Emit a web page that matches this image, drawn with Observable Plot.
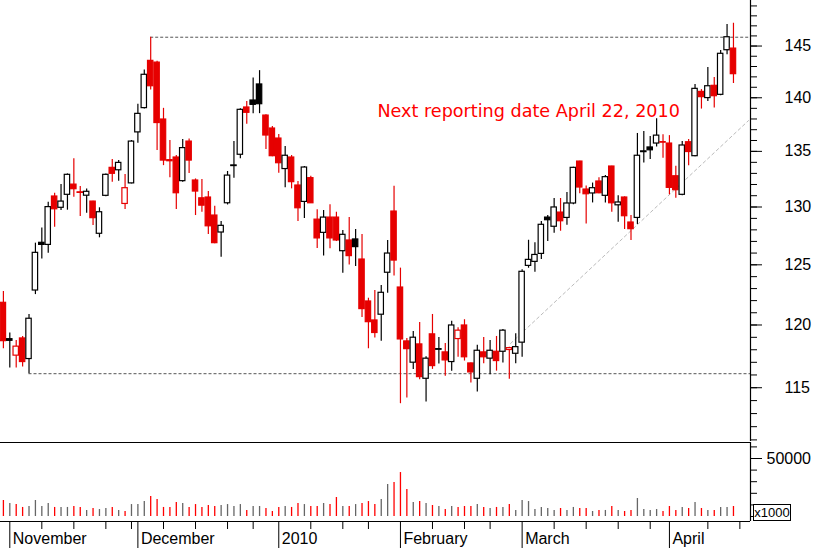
<!DOCTYPE html>
<html><head><meta charset="utf-8">
<script src="https://cdn.jsdelivr.net/npm/d3@7"></script>
<script src="https://cdn.jsdelivr.net/npm/@observablehq/plot@0.6"></script>
<style>
body{margin:0;background:#fff;}
#wrap{position:relative;width:817px;height:548px;overflow:hidden;background:#fff;}
#price{position:absolute;left:0;top:0;}
#vol{position:absolute;left:0;top:441px;}
#unit{position:absolute;left:753px;top:504px;width:36px;height:15px;border:1px solid #000;font:13px "Liberation Sans",Arial,sans-serif;line-height:15px;text-align:center;color:#000;background:#fff;}
</style></head><body>
<div id="wrap"><div id="price"></div><div id="vol"></div><div id="unit">x1000</div></div>
<script>
// trading days Oct 30 2009 .. Apr 16 2010 (index 0..114)
const open = [121.82,118.85,117.53,118.91,117.26,122.84,126.88,126.7,130.93,129.93,
131.08,131.99,131.3,131.0,130.48,127.66,130.99,133.5,133.28,130.27,
132.1,136.75,139.02,143.55,143.38,137.95,134.2,134.44,132.3,135.9,
132.36,130.77,130.84,129.25,127.77,130.33,133.72,134.69,139.08,139.74,
141.27,138.32,137.11,136.18,133.39,134.44,131.91,130.45,132.57,128.89,
127.74,129.07,129.07,126.16,127.08,127.17,125.45,121.93,120.37,120.84,
124.33,129.6,123.09,118.67,116.97,118.43,115.7,119.24,118.05,117.79,
117.02,118.86,119.96,116.91,115.7,117.79,117.29,117.84,117.84,117.98,
117.68,118.57,124.91,125.25,125.93,129.07,128.27,129.51,129.04,130.31,
134.07,131.55,131.2,132.27,130.99,133.62,130.15,130.84,128.64,129.04,
135.0,135.36,135.72,135.85,135.72,132.74,131.08,135.84,134.56,140.56,
139.97,141.14,140.28,144.59,144.75];
const high = [122.76,119.34,118.75,119.07,120.86,126.85,128.17,130.43,131.22,132.0,
132.95,134.33,131.82,131.6,130.5,129.93,132.95,134.25,134.16,132.9,
136.0,139.38,142.67,145.87,143.5,139.0,136.0,134.62,136.1,136.14,
132.5,132.45,131.37,130.06,128.72,133.17,135.9,138.95,139.65,141.9,
142.6,138.4,137.3,136.55,135.45,134.62,132.27,133.62,132.75,129.75,
129.69,130.19,129.54,127.94,129.07,128.03,127.6,122.2,122.84,123.26,
127.08,131.85,124.72,118.91,119.48,120.2,117.45,120.86,118.99,118.51,
120.31,119.78,120.43,116.95,118.37,118.99,118.75,119.07,119.64,118.2,
119.29,124.58,127.1,126.88,128.72,129.25,130.75,130.75,131.28,133.55,
134.1,131.87,132.13,132.6,132.8,133.65,131.0,130.9,129.25,136.65,
136.84,136.37,138.03,136.52,136.45,133.65,135.9,136.09,141.27,140.78,
142.9,141.94,144.56,147.13,147.26];
const low = [118.09,116.54,116.54,116.62,116.1,122.5,125.5,125.99,128.22,129.7,
129.72,130.87,129.17,129.45,128.38,127.31,130.9,132.21,132.3,129.78,
132.05,135.75,138.93,140.74,135.08,133.7,132.6,129.78,132.2,133.0,
129.25,129.54,127.6,126.8,125.65,130.18,132.57,134.32,137.5,138.5,
138.5,135.17,134.5,133.02,131.7,131.61,128.72,129.0,130.3,126.4,
125.74,126.36,126.99,124.29,124.99,124.85,120.61,118.08,118.94,118.69,
122.62,124.06,113.76,114.2,116.44,115.62,113.9,116.44,116.86,115.89,
116.3,117.4,117.1,115.36,114.66,116.89,116.02,116.3,116.94,115.67,
116.89,117.4,124.71,124.38,125.45,126.99,127.71,127.88,128.41,130.19,
131.17,128.5,130.36,131.17,130.36,129.54,128.66,128.03,127.08,128.47,
133.95,134.25,135.39,134.37,131.08,130.77,131.0,133.7,134.5,138.93,
139.65,139.02,140.2,144.14,141.36];
const close = [118.69,118.72,118.25,117.02,120.51,126.02,126.7,129.99,129.8,130.48,
132.87,131.58,131.25,131.35,129.02,129.54,132.87,132.96,133.95,131.67,
135.9,138.48,142.2,141.1,137.62,134.16,134.1,131.22,135.3,134.16,
131.37,130.12,128.31,126.85,128.35,132.8,133.66,138.86,138.58,139.33,
139.39,136.46,134.56,133.92,134.6,132.21,129.89,133.53,130.33,127.26,
129.07,127.26,127.08,127.57,125.74,126.51,121.3,120.23,119.35,122.65,
125.96,125.36,118.83,118.05,118.97,115.83,117.29,116.7,118.0,117.15,
119.96,119.54,117.4,116.2,117.92,117.4,117.92,117.1,119.54,118.13,
118.21,124.41,125.42,125.84,128.44,128.84,129.96,128.75,130.31,133.5,
131.73,131.13,131.67,131.22,132.66,130.33,130.4,129.19,128.06,134.6,
134.93,135.1,136.45,135.8,131.7,131.49,135.54,134.94,140.85,140.06,
141.1,140.15,144.24,145.87,142.26];
// volume (x1000)
const volume = [13800,11200,10300,7800,8600,13800,8600,11200,7800,7800,
7800,8600,7800,5200,6900,6000,6900,7800,5200,4300,
10300,10300,12900,17200,14700,7800,7800,12100,11200,7800,
10300,7800,9500,8600,9500,10300,8600,10300,5200,8600,
8600,6900,4300,7800,8600,7800,11200,10300,8600,8600,
11200,10300,16400,8600,8600,10300,11200,12900,10300,14700,
27600,29300,37900,23300,12100,12900,11200,9500,8600,6000,
8600,7800,8600,8600,10300,7800,6900,7800,7800,10300,
5200,13800,12900,6000,7800,6900,5200,6900,5200,7800,
6900,6900,4300,5200,5200,8600,5200,4300,5200,15500,
6000,5200,6000,4300,8600,5200,7800,6900,12100,6900,
5200,5200,7800,7800,8600];
// r = close below previous close (red), k = above (black)
const dir = ("rkrrkkkkrk"+"krrkrkkrkr"+"kkkrrrrrkr"+"rrrrkkkkrk"+"krrrkrrkrr"+
             "krrkrkrrrk"+"krrrkrkrkr"+"krrrkrkrkr"+"kkkkkkkrkk"+"rrkrkrkrrk"+
             "kkkrrrkrkr"+"krkkr").split("");
// month starts (trading-day index) and labels
const monthIdx = [1,21,43,62,81,104];
const monthLabels = ["November","December","2010","February","March","April"];
// weekly ticks (first trading day of week)
const weekIdx = [6,11,16,20,25,30,35,39,48,53,57,67,72,76,86,91,96,101,110,115];
// price axis ticks
const priceMajor = [115,120,125,130,135,140,145];
const priceMinor = d3.range(111,150);
const volTicks = [0,10000,20000,30000,40000,50000,60000];
const volMajor = [50000];
// drawn trend line (index, price)
const trendIdx = [79.19,116.35];
const trendVal = [118.5,137.85];
const noteText = "Next reporting date April 22, 2010";

const RED = "#e60000";
const VRED = "#ff0000";
const xMin = -0.4528, xMax = 116.66;
const candles = open.map((o,i)=>({i,o,h:high[i],l:low[i],c:close[i],v:volume[i],
  col: dir[i]==="r" ? RED : "#000", vcol: dir[i]==="r" ? VRED : "#666",
  fill: close[i] >= open[i] ? "#fff" : (dir[i]==="r" ? RED : "#000")}));
const resistance = {x1: 23, y: high[23]};
const support = {x1: 4, y: low[4]};
const trend = trendIdx.map((x,k)=>({x, y: trendVal[k]}));
const font = '"Liberation Sans", Arial, sans-serif';

const price = Plot.plot({
  width: 817, height: 441,
  marginLeft: 0, marginRight: 67, marginTop: 0, marginBottom: 0,
  style: {fontFamily: font, fontSize: "16px", color: "#000", background: "transparent", overflow: "visible"},
  x: {type: "linear", domain: [xMin, xMax], axis: null},
  y: {type: "log", domain: [110.88, 149.55], axis: null},
  marks: [
    Plot.ruleY([resistance, support], {y: "y", x1: "x1", x2: xMax, stroke: "#555", strokeDasharray: "3,2"}),
    Plot.line(trend, {x: "x", y: "y", stroke: "#bbb", strokeDasharray: "3,3", strokeWidth: 1}),
    Plot.ruleX(candles, {x: "i", y1: "l", y2: "h", stroke: d => d.col, strokeWidth: 1.2}),
    Plot.rect(candles, {x1: d => d.i - 0.42, x2: d => d.i + 0.42, y1: "o", y2: "c",
      fill: d => d.fill, stroke: d => d.col, strokeWidth: 1.2}),
    Plot.text([noteText], {x: 58.4, y: 138.23, text: d => d, textAnchor: "start", lineAnchor: "bottom",
      fill: "#ff0000", fontSize: 17.6, fontFamily: '"DejaVu Sans", Verdana, sans-serif'}),
    Plot.ruleX([xMax], {stroke: "#000", strokeWidth: 1.2}),
    Plot.axisY({anchor: "right", label: null, ticks: priceMinor, tickSize: 6, tickFormat: () => "", stroke: "#000"}),
    Plot.axisY({anchor: "right", label: null, ticks: priceMajor, tickSize: 11, tickPadding: 23, tickFormat: d => String(d), stroke: "#000", fill: "#000"})
  ]
});
document.getElementById("price").appendChild(price);

const vol = Plot.plot({
  width: 817, height: 107,
  marginLeft: 0, marginRight: 67, marginTop: 1, marginBottom: 27,
  style: {fontFamily: font, fontSize: "16px", color: "#000", background: "transparent", overflow: "visible"},
  x: {type: "linear", domain: [xMin, xMax], axis: null},
  y: {type: "linear", domain: [-4310, 63793], axis: null},
  marks: [
    Plot.ruleX(candles, {x: "i", y1: 0, y2: "v", stroke: d => d.vcol, strokeWidth: 1.3}),
    Plot.ruleY([63793, -4310], {x1: xMin, x2: xMax, stroke: "#000", strokeWidth: 1.2}),
    Plot.ruleX([xMax], {stroke: "#000", strokeWidth: 1.2}),
    Plot.axisY({anchor: "right", label: null, ticks: volTicks, tickSize: 6, tickFormat: () => "", stroke: "#000"}),
    Plot.axisY({anchor: "right", label: null, ticks: volMajor, tickSize: 11, tickPadding: 5, tickFormat: d => String(d), stroke: "#000", fill: "#000"}),
    Plot.axisX({anchor: "bottom", label: null, ticks: monthIdx, tickSize: 27, tickFormat: () => "", stroke: "#000"}),
    Plot.axisX({anchor: "bottom", label: null, ticks: weekIdx, tickSize: 8, tickFormat: () => "", stroke: "#000"}),
    Plot.text(monthIdx, {x: d => d, text: (d, k) => monthLabels[k], frameAnchor: "bottom", dy: 22.5, dx: 3,
      textAnchor: "start", lineAnchor: "bottom", fontSize: 16, fill: "#000"})
  ]
});
document.getElementById("vol").appendChild(vol);
</script>
</body></html>
